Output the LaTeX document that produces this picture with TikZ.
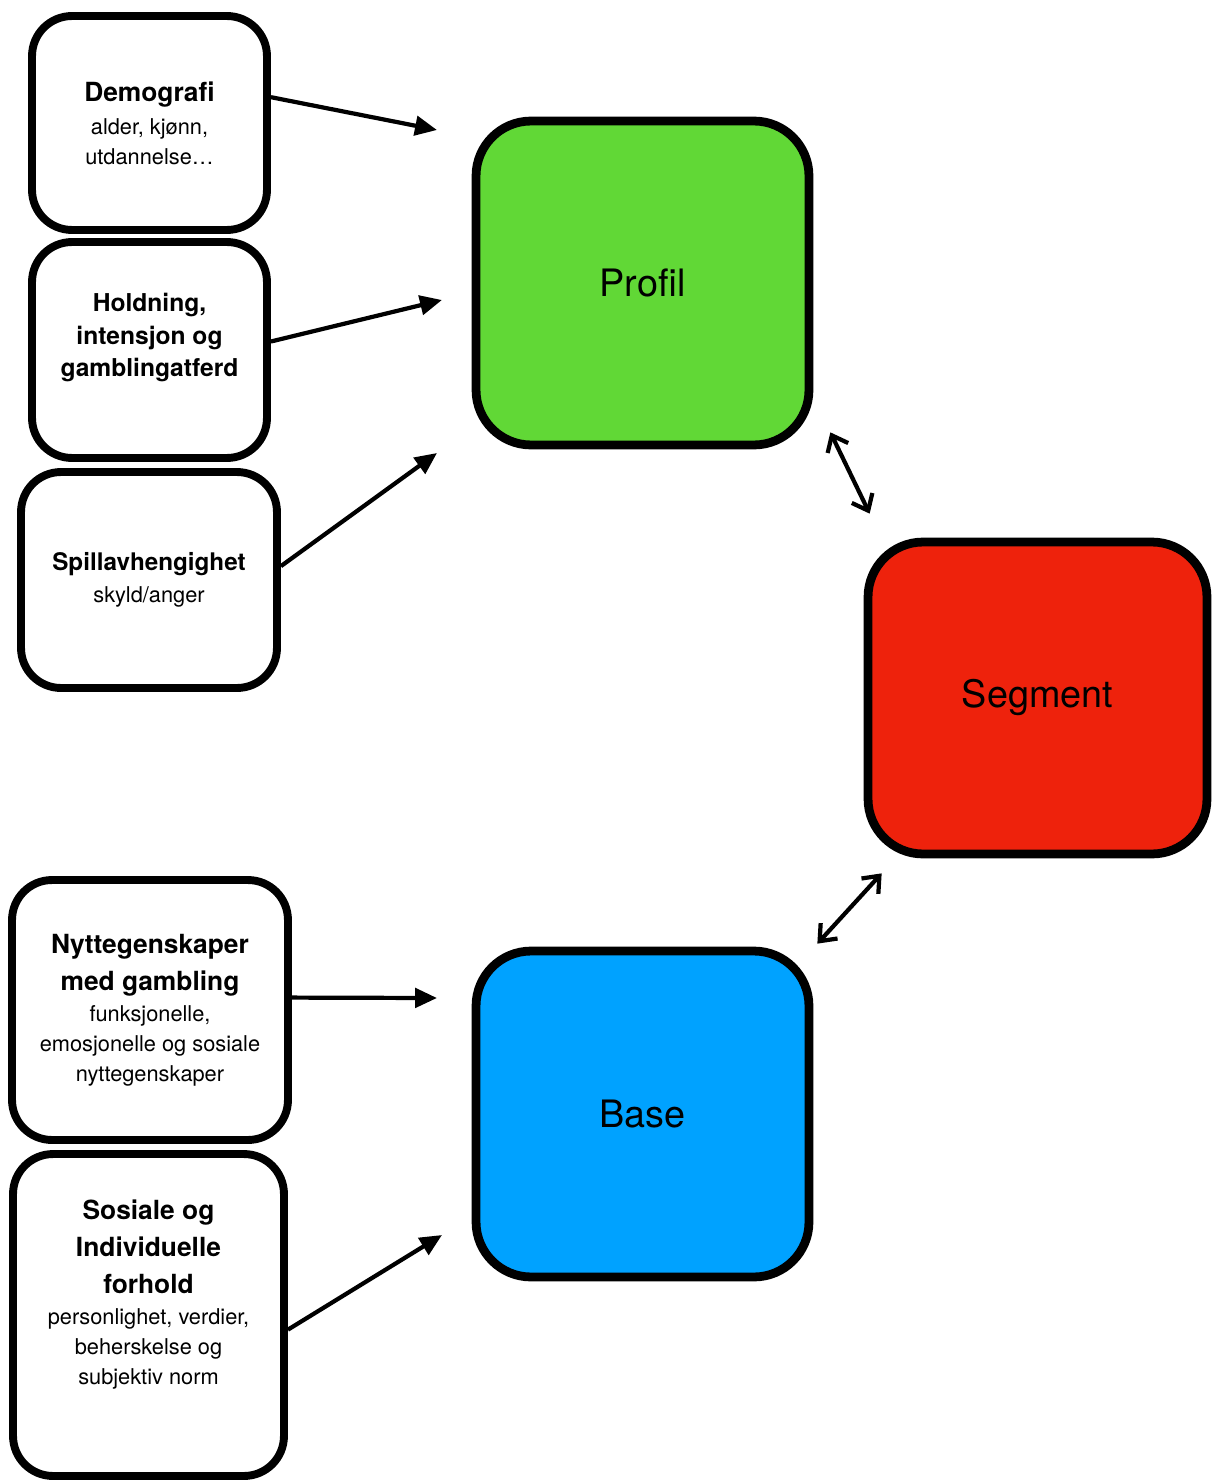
\documentclass[tikz,border=0pt]{standalone}
\usepackage{fontspec}
\setmainfont{TeX Gyre Heros}
\usetikzlibrary{arrows.meta,calc}

\definecolor{profilgreen}{HTML}{61D836}
\definecolor{segmentred}{HTML}{EE220C}
\definecolor{baseblue}{HTML}{00A2FF}

\newcommand{\hdfont}{\fontsize{15}{21}\selectfont\bfseries}
\newcommand{\subfont}{\fontsize{12.4}{17}\selectfont\mdseries}

\begin{document}
\begin{tikzpicture}[x=0.02cm, y=-0.02cm,
    infobox/.style={draw, line width=4.5pt, rounded corners=0.8cm, fill=white, align=center, inner sep=2pt, font=\subfont},
    mainbox/.style={draw, line width=5pt, rounded corners=1.1cm, font=\fontsize{21.5}{25}\selectfont},
    feed/.style={-{Triangle[length=12.5pt,width=11pt]}, line width=2.4pt},
    link/.style={{Straight Barb[length=8pt,width=13pt]}-{Straight Barb[length=8pt,width=13pt]}, line width=2.4pt}]
    \useasboundingbox (0,0) rectangle (1213,1483);

    % Inputs
    \node [infobox, minimum width=4.7cm, minimum height=4.28cm] (demo) at (149.5,123)
        {\hdfont Demografi\\[2pt] alder, kjønn,\\ utdannelse…};
    \node [infobox, minimum width=4.7cm, minimum height=4.32cm, text depth=17pt,
        font=\fontsize{14}{18.5}\selectfont\bfseries] (hold) at (149.5,350)
        {Holdning,\\ intensjon og\\ gamblingatferd};
    \node [infobox, minimum width=5.12cm, minimum height=4.32cm] (spill) at (149,580)
        {\fontsize{13.8}{18}\selectfont\bfseries Spillavhengighet\\[1pt] skyld/anger};
    \node [infobox, minimum width=5.52cm, minimum height=5.2cm] (nytte) at (150,1010)
        {\hdfont Nyttegenskaper\\[4pt] \hdfont med gambling\\[1pt] funksjonelle,\\ emosjonelle og sosiale\\ nyttegenskaper};
    \node [infobox, minimum width=5.42cm, minimum height=6.44cm, text depth=26pt] (sos) at (148.5,1315)
        {\hdfont Sosiale og\\[4pt] \hdfont Individuelle\\[4pt] \hdfont forhold\\[1pt] personlighet, verdier,\\ beherskelse og\\ subjektiv norm};

    % Main blocks
    \node [mainbox, fill=profilgreen, minimum width=6.66cm, minimum height=6.48cm] (profil) at (642.5,283) {Profil};
    \node [mainbox, fill=segmentred, minimum width=6.78cm, minimum height=6.24cm] (segment) at (1037.5,698) {Segment};
    \node [mainbox, fill=baseblue, minimum width=6.66cm, minimum height=6.52cm] (base) at (642.5,1114) {Base};

    % Arrow ends
    \coordinate (pin1) at (437,130);
    \coordinate (pin2) at (442,300);
    \coordinate (pin3) at (437,453);
    \coordinate (bin1) at (437,998);
    \coordinate (bin2) at (442,1235);
    \coordinate (ps1) at ($(profil.south east)+(17,-17)$);
    \coordinate (ps2) at ($(segment.north west)+(6,-24)$);
    \coordinate (sb1) at ($(segment.south west)+(18,15)$);
    \coordinate (sb2) at ($(base.north east)+(4,-3)$);

    % Edges
    \draw [feed] (demo.12) -- (pin1);
    \draw [feed] (hold.4) -- (pin2);
    \draw [feed] (spill.6) -- (pin3);
    \draw [feed] (nytte.5) -- (bin1);
    \draw [feed] (sos.-6) -- (bin2);
    \draw [link] (ps1) -- (ps2);
    \draw [link] (sb1) -- (sb2);
\end{tikzpicture}
\end{document}
